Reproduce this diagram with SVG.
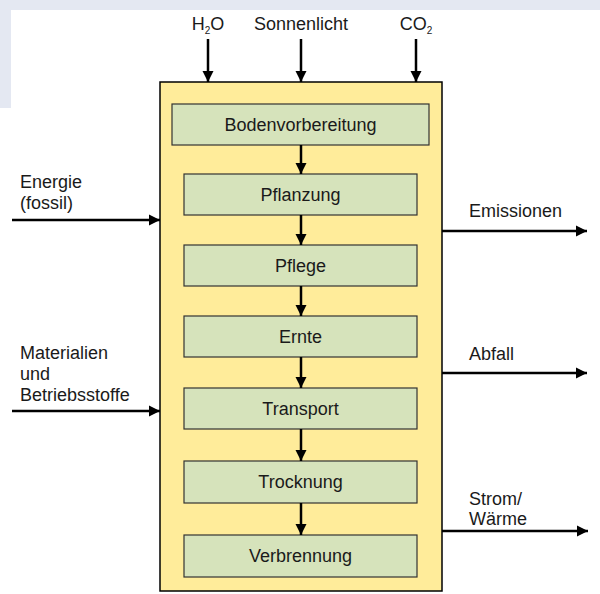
<svg xmlns="http://www.w3.org/2000/svg" width="600" height="594" viewBox="0 0 600 594">
<style>
text{font-family:"Liberation Sans",Arial,sans-serif;font-size:18px;fill:#1a1a1a}
.c{text-anchor:middle}
.step rect{fill:#d6e3bb;stroke:#333;stroke-width:1.2}
.cn line{stroke:#000;stroke-width:2.5;marker-end:url(#ah)}
</style>
<defs>
<marker id="ah" markerUnits="userSpaceOnUse" markerWidth="12" markerHeight="12" viewBox="0 0 12 12" refX="11" refY="6" orient="auto">
<path d="M0,0.5 L11,6 L0,11.5 Z" fill="#000"/>
</marker>
</defs>
<rect x="0" y="0" width="600" height="594" fill="#fff"/>
<path d="M0,0 H600 V10 H11 V108 H0 Z" fill="#e4e8f2"/>
<g id="process">
<rect x="160" y="82" width="282" height="509" fill="#ffec9a" stroke="#000" stroke-width="1.5"/>
</g>
<g id="bodenvorbereitung" class="step"><rect x="172" y="104" width="257" height="41"/><text class="c" x="300.5" y="131">Bodenvorbereitung</text></g>
<g id="pflanzung" class="step"><rect x="184" y="174" width="233" height="41"/><text class="c" x="300.5" y="201">Pflanzung</text></g>
<g id="pflege" class="step"><rect x="184" y="245" width="233" height="41"/><text class="c" x="300.5" y="272">Pflege</text></g>
<g id="ernte" class="step"><rect x="184" y="316" width="233" height="41"/><text class="c" x="300.5" y="343">Ernte</text></g>
<g id="transport" class="step"><rect x="184" y="388" width="233" height="41"/><text class="c" x="300.5" y="415">Transport</text></g>
<g id="trocknung" class="step"><rect x="184" y="461" width="233" height="42"/><text class="c" x="300.5" y="488">Trocknung</text></g>
<g id="verbrennung" class="step"><rect x="184" y="535" width="233" height="42"/><text class="c" x="300.5" y="562">Verbrennung</text></g>
<g id="labels">
<text class="c" x="208" y="30">H<tspan font-size="10" dy="4">2</tspan><tspan dy="-4">O</tspan></text>
<text class="c" x="301" y="30">Sonnenlicht</text>
<text class="c" x="416" y="30">CO<tspan font-size="10" dy="4">2</tspan></text>
<text x="20" y="188">Energie</text>
<text x="20" y="209">(fossil)</text>
<text x="20" y="359">Materialien</text>
<text x="20" y="380">und</text>
<text x="20" y="401">Betriebsstoffe</text>
<text x="469" y="217">Emissionen</text>
<text x="469" y="360">Abfall</text>
<text x="469" y="505">Strom/</text>
<text x="469" y="525">Wärme</text>
</g>
<g id="connectors" class="cn">
<line x1="208" y1="39" x2="208" y2="82"/>
<line x1="301" y1="39" x2="301" y2="82"/>
<line x1="416" y1="39" x2="416" y2="82"/>
<line x1="12" y1="220" x2="160" y2="220"/>
<line x1="12" y1="411" x2="160" y2="411"/>
<line x1="442" y1="231" x2="587" y2="231"/>
<line x1="442" y1="373" x2="587" y2="373"/>
<line x1="442" y1="531" x2="588" y2="531"/>
<line x1="301" y1="145" x2="301" y2="174"/>
<line x1="301" y1="215" x2="301" y2="245"/>
<line x1="301" y1="286" x2="301" y2="316"/>
<line x1="301" y1="357" x2="301" y2="388"/>
<line x1="301" y1="429" x2="301" y2="461"/>
<line x1="301" y1="503" x2="301" y2="535"/>
</g>
</svg>
